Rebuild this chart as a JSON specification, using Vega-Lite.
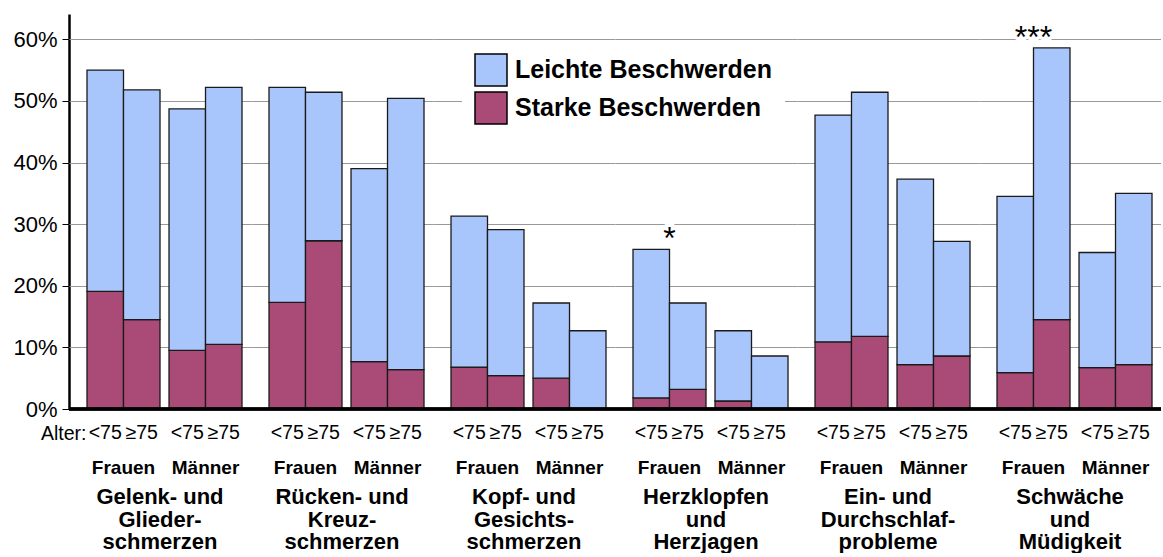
{
  "$schema": "https://vega.github.io/schema/vega-lite/v6.json",
  "padding": {"left": 12, "top": 14, "right": 0, "bottom": 0},
  "config": {
    "font": "Liberation Sans",
    "view": {"stroke": null},
    "text": {"font": "Liberation Sans"}
  },
  "data": {
    "values": [
      {"Gruppe": "Gelenk- und|Glieder-|schmerzen", "Geschlecht": "Frauen", "Alter": "<75", "Beschwerden": "Starke Beschwerden", "Anteil": 19.1},
      {"Gruppe": "Gelenk- und|Glieder-|schmerzen", "Geschlecht": "Frauen", "Alter": "<75", "Beschwerden": "Leichte Beschwerden", "Anteil": 35.9},
      {"Gruppe": "Gelenk- und|Glieder-|schmerzen", "Geschlecht": "Frauen", "Alter": "≥75", "Beschwerden": "Starke Beschwerden", "Anteil": 14.5},
      {"Gruppe": "Gelenk- und|Glieder-|schmerzen", "Geschlecht": "Frauen", "Alter": "≥75", "Beschwerden": "Leichte Beschwerden", "Anteil": 37.3},
      {"Gruppe": "Gelenk- und|Glieder-|schmerzen", "Geschlecht": "Männer", "Alter": "<75", "Beschwerden": "Starke Beschwerden", "Anteil": 9.5},
      {"Gruppe": "Gelenk- und|Glieder-|schmerzen", "Geschlecht": "Männer", "Alter": "<75", "Beschwerden": "Leichte Beschwerden", "Anteil": 39.2},
      {"Gruppe": "Gelenk- und|Glieder-|schmerzen", "Geschlecht": "Männer", "Alter": "≥75", "Beschwerden": "Starke Beschwerden", "Anteil": 10.5},
      {"Gruppe": "Gelenk- und|Glieder-|schmerzen", "Geschlecht": "Männer", "Alter": "≥75", "Beschwerden": "Leichte Beschwerden", "Anteil": 41.7},

      {"Gruppe": "Rücken- und|Kreuz-|schmerzen", "Geschlecht": "Frauen", "Alter": "<75", "Beschwerden": "Starke Beschwerden", "Anteil": 17.3},
      {"Gruppe": "Rücken- und|Kreuz-|schmerzen", "Geschlecht": "Frauen", "Alter": "<75", "Beschwerden": "Leichte Beschwerden", "Anteil": 34.9},
      {"Gruppe": "Rücken- und|Kreuz-|schmerzen", "Geschlecht": "Frauen", "Alter": "≥75", "Beschwerden": "Starke Beschwerden", "Anteil": 27.3},
      {"Gruppe": "Rücken- und|Kreuz-|schmerzen", "Geschlecht": "Frauen", "Alter": "≥75", "Beschwerden": "Leichte Beschwerden", "Anteil": 24.1},
      {"Gruppe": "Rücken- und|Kreuz-|schmerzen", "Geschlecht": "Männer", "Alter": "<75", "Beschwerden": "Starke Beschwerden", "Anteil": 7.7},
      {"Gruppe": "Rücken- und|Kreuz-|schmerzen", "Geschlecht": "Männer", "Alter": "<75", "Beschwerden": "Leichte Beschwerden", "Anteil": 31.3},
      {"Gruppe": "Rücken- und|Kreuz-|schmerzen", "Geschlecht": "Männer", "Alter": "≥75", "Beschwerden": "Starke Beschwerden", "Anteil": 6.4},
      {"Gruppe": "Rücken- und|Kreuz-|schmerzen", "Geschlecht": "Männer", "Alter": "≥75", "Beschwerden": "Leichte Beschwerden", "Anteil": 44.0},

      {"Gruppe": "Kopf- und|Gesichts-|schmerzen", "Geschlecht": "Frauen", "Alter": "<75", "Beschwerden": "Starke Beschwerden", "Anteil": 6.8},
      {"Gruppe": "Kopf- und|Gesichts-|schmerzen", "Geschlecht": "Frauen", "Alter": "<75", "Beschwerden": "Leichte Beschwerden", "Anteil": 24.5},
      {"Gruppe": "Kopf- und|Gesichts-|schmerzen", "Geschlecht": "Frauen", "Alter": "≥75", "Beschwerden": "Starke Beschwerden", "Anteil": 5.4},
      {"Gruppe": "Kopf- und|Gesichts-|schmerzen", "Geschlecht": "Frauen", "Alter": "≥75", "Beschwerden": "Leichte Beschwerden", "Anteil": 23.7},
      {"Gruppe": "Kopf- und|Gesichts-|schmerzen", "Geschlecht": "Männer", "Alter": "<75", "Beschwerden": "Starke Beschwerden", "Anteil": 5.0},
      {"Gruppe": "Kopf- und|Gesichts-|schmerzen", "Geschlecht": "Männer", "Alter": "<75", "Beschwerden": "Leichte Beschwerden", "Anteil": 12.2},
      {"Gruppe": "Kopf- und|Gesichts-|schmerzen", "Geschlecht": "Männer", "Alter": "≥75", "Beschwerden": "Starke Beschwerden", "Anteil": 0},
      {"Gruppe": "Kopf- und|Gesichts-|schmerzen", "Geschlecht": "Männer", "Alter": "≥75", "Beschwerden": "Leichte Beschwerden", "Anteil": 12.7},

      {"Gruppe": "Herzklopfen|und|Herzjagen", "Geschlecht": "Frauen", "Alter": "<75", "Beschwerden": "Starke Beschwerden", "Anteil": 1.8},
      {"Gruppe": "Herzklopfen|und|Herzjagen", "Geschlecht": "Frauen", "Alter": "<75", "Beschwerden": "Leichte Beschwerden", "Anteil": 24.1, "Sig": "*"},
      {"Gruppe": "Herzklopfen|und|Herzjagen", "Geschlecht": "Frauen", "Alter": "≥75", "Beschwerden": "Starke Beschwerden", "Anteil": 3.2},
      {"Gruppe": "Herzklopfen|und|Herzjagen", "Geschlecht": "Frauen", "Alter": "≥75", "Beschwerden": "Leichte Beschwerden", "Anteil": 14.0},
      {"Gruppe": "Herzklopfen|und|Herzjagen", "Geschlecht": "Männer", "Alter": "<75", "Beschwerden": "Starke Beschwerden", "Anteil": 1.3},
      {"Gruppe": "Herzklopfen|und|Herzjagen", "Geschlecht": "Männer", "Alter": "<75", "Beschwerden": "Leichte Beschwerden", "Anteil": 11.4},
      {"Gruppe": "Herzklopfen|und|Herzjagen", "Geschlecht": "Männer", "Alter": "≥75", "Beschwerden": "Starke Beschwerden", "Anteil": 0},
      {"Gruppe": "Herzklopfen|und|Herzjagen", "Geschlecht": "Männer", "Alter": "≥75", "Beschwerden": "Leichte Beschwerden", "Anteil": 8.6},

      {"Gruppe": "Ein- und|Durchschlaf-|probleme", "Geschlecht": "Frauen", "Alter": "<75", "Beschwerden": "Starke Beschwerden", "Anteil": 10.9},
      {"Gruppe": "Ein- und|Durchschlaf-|probleme", "Geschlecht": "Frauen", "Alter": "<75", "Beschwerden": "Leichte Beschwerden", "Anteil": 36.8},
      {"Gruppe": "Ein- und|Durchschlaf-|probleme", "Geschlecht": "Frauen", "Alter": "≥75", "Beschwerden": "Starke Beschwerden", "Anteil": 11.8},
      {"Gruppe": "Ein- und|Durchschlaf-|probleme", "Geschlecht": "Frauen", "Alter": "≥75", "Beschwerden": "Leichte Beschwerden", "Anteil": 39.6},
      {"Gruppe": "Ein- und|Durchschlaf-|probleme", "Geschlecht": "Männer", "Alter": "<75", "Beschwerden": "Starke Beschwerden", "Anteil": 7.2},
      {"Gruppe": "Ein- und|Durchschlaf-|probleme", "Geschlecht": "Männer", "Alter": "<75", "Beschwerden": "Leichte Beschwerden", "Anteil": 30.1},
      {"Gruppe": "Ein- und|Durchschlaf-|probleme", "Geschlecht": "Männer", "Alter": "≥75", "Beschwerden": "Starke Beschwerden", "Anteil": 8.6},
      {"Gruppe": "Ein- und|Durchschlaf-|probleme", "Geschlecht": "Männer", "Alter": "≥75", "Beschwerden": "Leichte Beschwerden", "Anteil": 18.6},

      {"Gruppe": "Schwäche|und|Müdigkeit", "Geschlecht": "Frauen", "Alter": "<75", "Beschwerden": "Starke Beschwerden", "Anteil": 5.9},
      {"Gruppe": "Schwäche|und|Müdigkeit", "Geschlecht": "Frauen", "Alter": "<75", "Beschwerden": "Leichte Beschwerden", "Anteil": 28.6},
      {"Gruppe": "Schwäche|und|Müdigkeit", "Geschlecht": "Frauen", "Alter": "≥75", "Beschwerden": "Starke Beschwerden", "Anteil": 14.5},
      {"Gruppe": "Schwäche|und|Müdigkeit", "Geschlecht": "Frauen", "Alter": "≥75", "Beschwerden": "Leichte Beschwerden", "Anteil": 44.1, "Sig": "***"},
      {"Gruppe": "Schwäche|und|Müdigkeit", "Geschlecht": "Männer", "Alter": "<75", "Beschwerden": "Starke Beschwerden", "Anteil": 6.7},
      {"Gruppe": "Schwäche|und|Müdigkeit", "Geschlecht": "Männer", "Alter": "<75", "Beschwerden": "Leichte Beschwerden", "Anteil": 18.7},
      {"Gruppe": "Schwäche|und|Müdigkeit", "Geschlecht": "Männer", "Alter": "≥75", "Beschwerden": "Starke Beschwerden", "Anteil": 7.2},
      {"Gruppe": "Schwäche|und|Müdigkeit", "Geschlecht": "Männer", "Alter": "≥75", "Beschwerden": "Leichte Beschwerden", "Anteil": 27.8}
    ]
  },
  "spacing": 0,
  "facet": {
    "column": {
      "field": "Gruppe",
      "type": "nominal",
      "sort": ["Gelenk- und|Glieder-|schmerzen", "Rücken- und|Kreuz-|schmerzen", "Kopf- und|Gesichts-|schmerzen", "Herzklopfen|und|Herzjagen", "Ein- und|Durchschlaf-|probleme", "Schwäche|und|Müdigkeit"],
      "header": {
        "title": null,
        "labelOrient": "bottom",
        "labelExpr": "split(datum.value, '|')",
        "labelFontSize": 22,
        "labelFontWeight": "bold",
        "labelColor": "black",
        "labelLineHeight": 22.5,
        "labelBaseline": "top",
        "labelPadding": 10
      }
    }
  },
  "spec": {
    "width": 182,
    "height": 395,
    "layer": [
      {
        "mark": {"type": "bar", "stroke": "#1a1a1a", "strokeWidth": 1.3},
        "encoding": {
          "x": {
            "field": "Geschlecht",
            "type": "nominal",
            "sort": ["Frauen", "Männer"],
            "scale": {"domain": ["Frauen", "Männer"], "paddingInner": 0.11, "paddingOuter": 0.1646, "align": 0.667},
            "axis": {
              "title": null,
              "ticks": false,
              "tickSize": 0,
              "domain": false,
              "labelAngle": 0,
              "labelFontSize": 19,
              "labelFontWeight": "bold",
              "labelColor": "black",
              "labelPadding": 15,
              "grid": false
            }
          },
          "xOffset": {
            "field": "Alter",
            "type": "nominal",
            "scale": {"domain": ["<75", "≥75"], "paddingInner": 0, "paddingOuter": 0}
          },
          "y": {
            "field": "Anteil",
            "type": "quantitative",
            "stack": "zero",
            "title": "Alter:",
            "scale": {"domain": [0, 64.1], "nice": false},
            "axis": {
              "values": [0, 10, 20, 30, 40, 50, 60],
              "labelExpr": "datum.value + '%'",
              "grid": true,
              "gridColor": "#999999",
              "gridWidth": 1,
              "domainColor": "black",
              "domainWidth": 2.5,
              "tickColor": "black",
              "tickSize": 7,
              "labelFontSize": 22,
              "labelPadding": 5,
              "labelColor": "black",
              "titleAngle": 0,
              "titleX": 17,
              "titleY": 419,
              "titleAlign": "right",
              "titleBaseline": "middle",
              "titleFontSize": 19.5,
              "titleFontWeight": "normal",
              "titleColor": "black"
            }
          },
          "color": {
            "field": "Beschwerden",
            "type": "nominal",
            "scale": {"domain": ["Leichte Beschwerden", "Starke Beschwerden"], "range": ["#A9C6FC", "#AA4A77"]},
            "legend": {
              "title": null,
              "orient": "none",
              "legendX": 393,
              "legendY": 27,
              "fillColor": "white",
              "padding": 12,
              "symbolType": "square",
              "symbolSize": 1024,
              "symbolStrokeColor": "black",
              "symbolStrokeWidth": 1.5,
              "symbolOpacity": 1,
              "labelFontSize": 25,
              "labelFontWeight": "bold",
              "labelColor": "black",
              "labelOffset": 7,
              "rowPadding": 0,
              "labelLimit": 400
            }
          },
          "order": {"field": "Beschwerden", "sort": "descending"}
        }
      },
      {
        "mark": {"type": "rect", "color": "black"},
        "encoding": {
          "y": {"datum": 0.2, "type": "quantitative", "title": "Alter:"},
          "y2": {"datum": -0.2}
        }
      },
      {
        "transform": [{"filter": "datum.Beschwerden == 'Starke Beschwerden'"}],
        "mark": {"type": "text", "baseline": "middle", "align": "center", "dy": 24, "fontSize": 19.5, "color": "black"},
        "encoding": {
          "x": {"field": "Geschlecht", "type": "nominal"},
          "xOffset": {"field": "Alter", "type": "nominal"},
          "y": {"datum": 0, "type": "quantitative", "title": "Alter:"},
          "text": {"field": "Alter"}
        }
      },
      {
        "transform": [
          {"joinaggregate": [{"op": "sum", "field": "Anteil", "as": "Gesamt"}], "groupby": ["Gruppe", "Geschlecht", "Alter"]},
          {"filter": "datum.Sig"}
        ],
        "mark": {"type": "text", "baseline": "alphabetic", "align": "center", "dy": 0, "fontSize": 32, "color": "white", "stroke": "white", "strokeWidth": 7},
        "encoding": {
          "x": {"field": "Geschlecht", "type": "nominal"},
          "y": {"field": "Gesamt", "type": "quantitative", "title": "Alter:"},
          "text": {"field": "Sig"}
        }
      },
      {
        "transform": [
          {"joinaggregate": [{"op": "sum", "field": "Anteil", "as": "Gesamt"}], "groupby": ["Gruppe", "Geschlecht", "Alter"]},
          {"filter": "datum.Sig"}
        ],
        "mark": {"type": "text", "baseline": "alphabetic", "align": "center", "dy": 0, "fontSize": 32, "color": "black"},
        "encoding": {
          "x": {"field": "Geschlecht", "type": "nominal"},
          "y": {"field": "Gesamt", "type": "quantitative", "title": "Alter:"},
          "text": {"field": "Sig"}
        }
      }
    ]
  }
}
